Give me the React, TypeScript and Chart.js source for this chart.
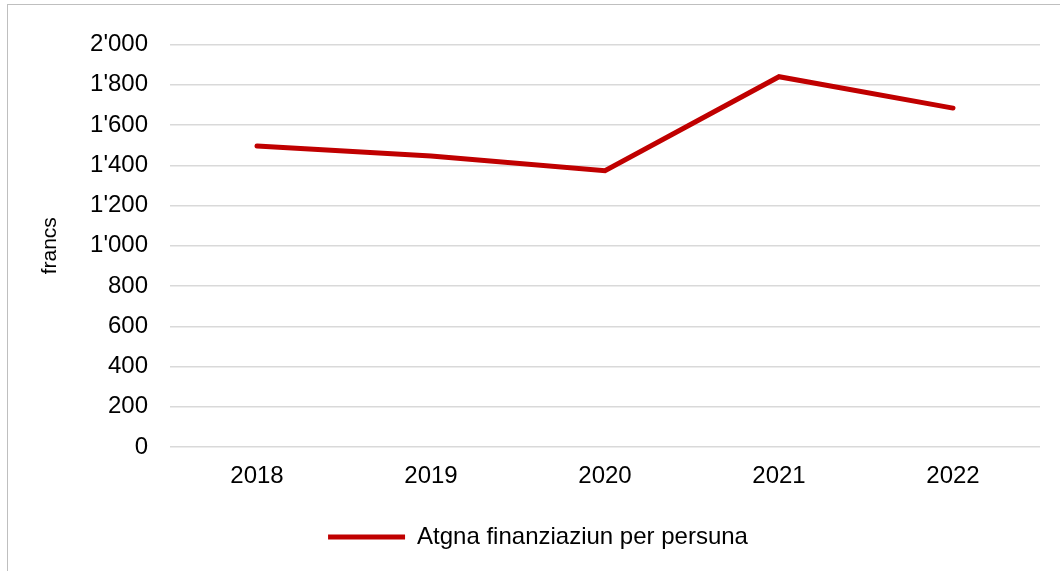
import React, { useEffect, useRef } from "react";
import { Chart, registerables } from "chart.js";

Chart.register(...registerables);

const categories = ["2018", "2019", "2020", "2021", "2022"];
const seriesLabel = "Atgna finanziaziun per persuna";
const seriesValues = [1496, 1446, 1373, 1840, 1684];
const yAxisTitle = "francs";
const yMin = 0;
const yMax = 2000;
const yStep = 200;

const fmt = (v: number) => {
  if (v >= 1000) {
    const th = Math.floor(v / 1000);
    const rest = String(Math.round(v % 1000)).padStart(3, "0");
    return `${th}'${rest}`;
  }
  return String(v);
};

export default function App() {
  const ref = useRef<HTMLCanvasElement>(null);
  useEffect(() => {
    if (!ref.current) return;
    const font = { family: "'Liberation Sans', Arial, sans-serif", size: 24 };
    const color = "#C00000";
    const chart = new Chart(ref.current, {
      type: "line",
      data: {
        labels: categories,
        datasets: [
          {
            label: seriesLabel,
            data: seriesValues,
            borderColor: color,
            backgroundColor: color,
            borderWidth: 5,
            pointRadius: 0,
            tension: 0,
            borderCapStyle: "round",
            borderJoinStyle: "miter",
          },
        ],
      },
      options: {
        animation: false,
        responsive: false,
        maintainAspectRatio: false,
        layout: { padding: { left: 36, right: 20, top: 44.5, bottom: 12 } },
        plugins: {
          tooltip: { enabled: false },
          legend: {
            position: "bottom",
            labels: {
              font,
              color: "#000",
              padding: 10,
              boxWidth: 77,
              boxHeight: 5,
              generateLabels: (c: any) =>
                c.data.datasets.map((d: any, i: number) => ({
                  text: d.label,
                  fillStyle: d.borderColor,
                  strokeStyle: d.borderColor,
                  lineWidth: 0,
                  hidden: false,
                  datasetIndex: i,
                  fontColor: "#000",
                })),
            },
          },
        },
        scales: {
          x: {
            offset: true,
            grid: { display: false, drawTicks: false, offset: true },
            border: { display: false },
            ticks: { font, color: "#000", padding: 15, maxRotation: 0 },
            afterFit: (s: any) => {
              s.height = 68;
            },
          },
          y: {
            min: yMin,
            max: yMax,
            grid: { color: "#d9d9d9", lineWidth: 1.5, drawTicks: false },
            border: { display: false },
            ticks: {
              stepSize: yStep,
              font,
              color: "#000",
              padding: 22,
              callback: (v: any) => fmt(Number(v)),
            },
            title: {
              display: true,
              text: yAxisTitle,
              font: { family: font.family, size: 21 },
              color: "#000",
              padding: { top: 2, bottom: 0 },
            },
            afterFit: (s: any) => {
              s.width = 134;
            },
          },
        },
      },
    });
    return () => chart.destroy();
  }, []);
  return (
    <div
      style={{
        position: "absolute",
        left: 0,
        top: 0,
        width: 1060,
        height: 571,
        overflow: "hidden",
        background: "#fff",
      }}
    >
      <div
        style={{
          position: "absolute",
          left: 7,
          top: 4,
          width: 1100,
          height: 650,
          border: "1px solid #bfbfbf",
          boxSizing: "border-box",
        }}
      />
      <canvas
        ref={ref}
        width={1060}
        height={571}
        style={{ position: "absolute", left: 0, top: 0 }}
      />
    </div>
  );
}
